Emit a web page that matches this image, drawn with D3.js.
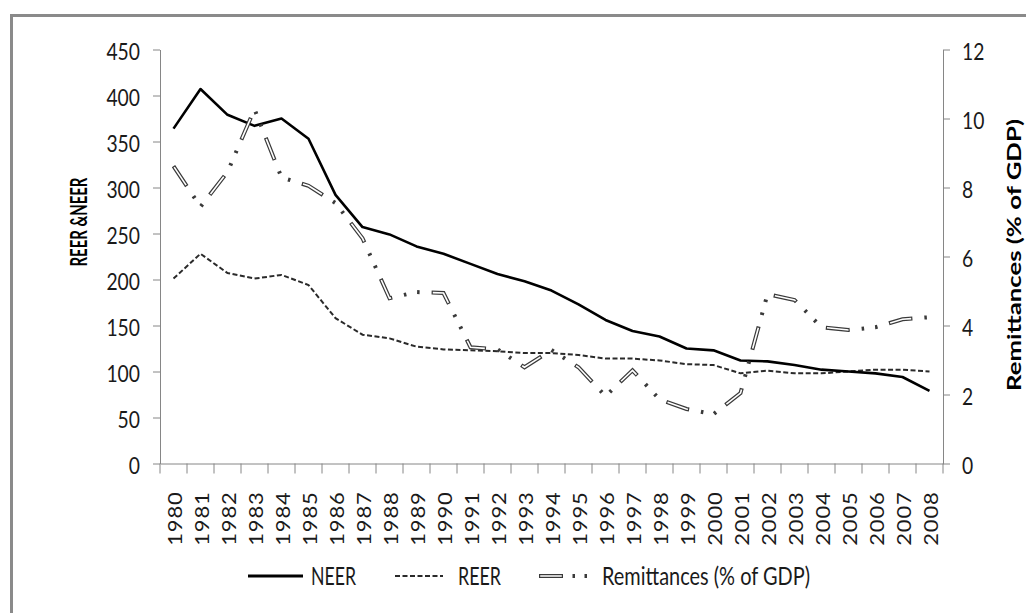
<!DOCTYPE html>
<html>
<head>
<meta charset="utf-8">
<script src="https://cdn.jsdelivr.net/npm/d3@7"></script>
<style>
  body { margin: 0; background: #fff; }
  svg { display: block; }
  text { font-family: Lato, "Open Sans", sans-serif; }
</style>
</head>
<body>
<svg id="chart" width="1026" height="613"></svg>
<script>
// data
const years = ["1980","1981","1982","1983","1984","1985","1986","1987","1988","1989",
               "1990","1991","1992","1993","1994","1995","1996","1997","1998","1999",
               "2000","2001","2002","2003","2004","2005","2006","2007","2008"];
const neer = [364, 407, 379, 367, 375, 353, 292, 257, 249, 236,
              228, 217, 206, 198, 188, 173, 156, 144, 138, 125,
              123, 112, 111, 107, 102, 100, 98, 94, 79];
const reer = [201, 228, 207, 201, 205, 194, 158, 140, 136, 127,
              124, 123, 122, 120, 120, 118, 114, 114, 112, 108,
              107, 98, 101, 98, 98, 100, 102, 102, 100];
const remit = [8.62, 7.44, 8.45, 10.27, 8.29, 8.05, 7.55, 6.53, 4.79, 4.97,
               4.94, 3.37, 3.31, 2.79, 3.29, 2.79, 1.95, 2.70, 1.86, 1.58,
               1.43, 2.04, 4.91, 4.74, 3.95, 3.87, 3.95, 4.18, 4.24];
const leftTicks = [0, 50, 100, 150, 200, 250, 300, 350, 400, 450];
const rightTicks = [0, 2, 4, 6, 8, 10, 12];
const leftTitle = "REER &NEER";
const rightTitle = "Remittances (% of GDP)";
const legendNames = ["NEER", "REER", "Remittances (% of GDP)"];

const svg = d3.select("#chart");
const SX = 0.84;            // the source picture is a bit squeezed sideways
const axisColor = "#868686";
const labelFont = 23;

const x = d3.scaleBand().domain(years).range([160, 943]);
const yL = d3.scaleLinear().domain([0, 450]).range([463.5, 49.5]);
const yR = d3.scaleLinear().domain([0, 12]).range([463.5, 49.5]);

// outer frame (runs off the right and bottom edge)
svg.append("rect")
    .attr("x", 11.5).attr("y", 15.5)
    .attr("width", 1100).attr("height", 700)
    .attr("fill", "none")
    .attr("stroke", "#8a8a8a")
    .attr("stroke-width", 3);

// left axis
const gL = svg.append("g")
    .attr("transform", "translate(160,0)")
    .call(d3.axisLeft(yL).tickValues(leftTicks).tickSize(7).tickSizeOuter(0));
gL.select(".domain").attr("stroke", axisColor);
gL.selectAll(".tick line").attr("stroke", axisColor);
gL.selectAll(".tick text")
    .attr("x", null).attr("dy", null)
    .attr("transform", `translate(-20,10) scale(${SX},1)`)
    .attr("font-family", "Lato")
    .attr("font-size", labelFont)
    .attr("fill", "#1a1a1a");

// right axis
const gR = svg.append("g")
    .attr("transform", "translate(943,0)")
    .call(d3.axisRight(yR).tickValues(rightTicks).tickSize(7).tickSizeOuter(0));
gR.select(".domain").attr("stroke", axisColor);
gR.selectAll(".tick line").attr("stroke", axisColor);
gR.selectAll(".tick text")
    .attr("x", null).attr("dy", null)
    .attr("transform", `translate(19,10) scale(${SX},1)`)
    .attr("font-family", "Lato")
    .attr("font-size", labelFont)
    .attr("fill", "#1a1a1a");

// bottom axis, ticks sit between the categories
const gX = svg.append("g")
    .attr("transform", "translate(0,463.5)")
    .call(d3.axisBottom(x).tickSize(10).tickSizeOuter(0));
gX.select(".domain").attr("stroke", axisColor);
gX.selectAll(".tick line")
    .attr("stroke", axisColor)
    .attr("transform", `translate(${-x.bandwidth() / 2},0)`);
gX.append("line")
    .attr("x1", x.range()[1]).attr("x2", x.range()[1])
    .attr("y1", 0).attr("y2", 10)
    .attr("stroke", axisColor);
gX.selectAll(".tick text")
    .attr("y", null).attr("dy", null)
    .attr("transform", `translate(8.5,28) scale(${SX},1) rotate(-90)`)
    .attr("text-anchor", "end")
    .attr("font-family", "Lato")
    .attr("font-size", 22)
    .attr("letter-spacing", 0.8)
    .attr("fill", "#1a1a1a");

// axis titles: squeeze along the text to the measured length
function vTitle(label, cx, cy, size, len) {
    const t = svg.append("text")
        .attr("text-anchor", "middle")
        .attr("font-family", "Open Sans")
        .attr("font-weight", "bold")
        .attr("font-size", size)
        .text(label);
    const k = len / t.node().getComputedTextLength();
    t.attr("transform", `translate(${cx},${cy}) rotate(-90) scale(${k},1)`);
}
vTitle(leftTitle, 87, 222, 22, 89);
vTitle(rightTitle, 1021, 255, 19, 272);

// series
const xc = (d, i) => x(years[i]) + x.bandwidth() / 2;
const lineL = d3.line().x(xc).y(d => yL(d));
const lineR = d3.line().x(xc).y(d => yR(d));

svg.append("path")
    .datum(reer)
    .attr("d", lineL)
    .attr("fill", "none")
    .attr("stroke", "#2a2a2a")
    .attr("stroke-width", 2)
    .attr("stroke-dasharray", "5,2.5");

svg.append("path")
    .datum(neer)
    .attr("d", lineL)
    .attr("fill", "none")
    .attr("stroke", "#000")
    .attr("stroke-width", 2.6)
    .attr("stroke-linejoin", "round");

// remittances: double-line long dash, then two dots
const remitOuter = "24,12,2.5,11,2.5,12";
const remitInner = "0,1.2,21.6,41.2";
svg.append("path")
    .datum(remit)
    .attr("d", lineR)
    .attr("fill", "none")
    .attr("stroke", "#3a3a3a")
    .attr("stroke-width", 4)
    .attr("stroke-dasharray", remitOuter);
svg.append("path")
    .datum(remit)
    .attr("d", lineR)
    .attr("fill", "none")
    .attr("stroke", "#fff")
    .attr("stroke-width", 1.6)
    .attr("stroke-dasharray", remitInner);

// legend
const ly = 576;
const legend = svg.append("g");
legend.append("line")
    .attr("x1", 248).attr("x2", 303).attr("y1", ly).attr("y2", ly)
    .attr("stroke", "#000").attr("stroke-width", 3);
legend.append("line")
    .attr("x1", 395).attr("x2", 443).attr("y1", ly).attr("y2", ly)
    .attr("stroke", "#2a2a2a").attr("stroke-width", 2)
    .attr("stroke-dasharray", "5,2.5");
legend.append("line")
    .attr("x1", 539).attr("x2", 592).attr("y1", ly).attr("y2", ly)
    .attr("stroke", "#3a3a3a").attr("stroke-width", 4)
    .attr("stroke-dasharray", "24,9.5,2.5,9.5,2.5,20");
legend.append("line")
    .attr("x1", 539).attr("x2", 563).attr("y1", ly).attr("y2", ly)
    .attr("stroke", "#fff").attr("stroke-width", 1.6)
    .attr("stroke-dasharray", "0,1.2,21.6,40");

const legendX = [311, 458, 602];
const legendW = [45, 43, 208];
legend.selectAll("text.lg")
    .data(legendNames)
    .join("text")
    .attr("class", "lg")
    .attr("x", (d, i) => legendX[i])
    .attr("y", ly + 9)
    .attr("font-family", "Lato")
    .attr("font-size", 25)
    .attr("textLength", (d, i) => legendW[i])
    .attr("lengthAdjust", "spacingAndGlyphs")
    .attr("fill", "#1a1a1a")
    .text(d => d);
</script>
</body>
</html>
